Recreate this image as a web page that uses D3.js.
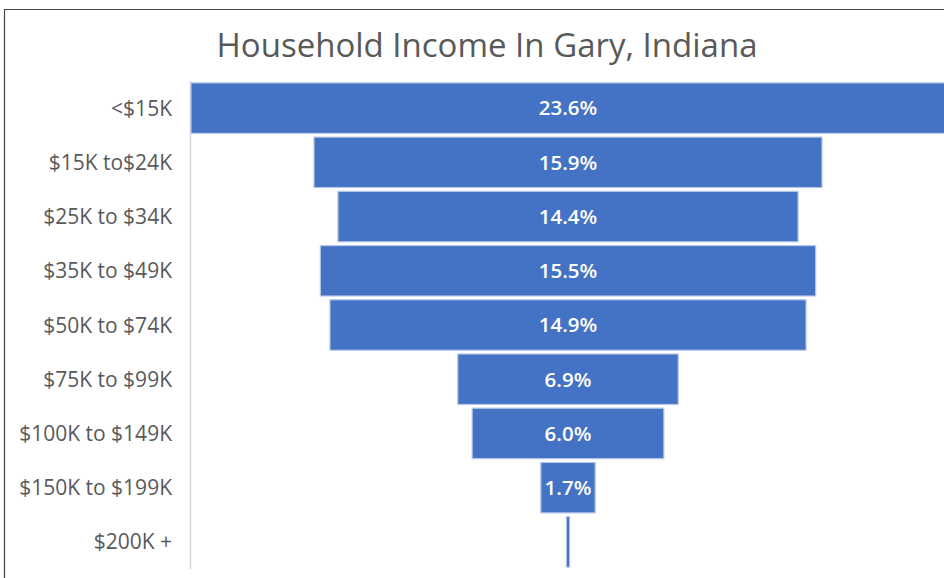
<!DOCTYPE html>
<html>
<head>
<meta charset="utf-8">
<script src="https://cdn.jsdelivr.net/npm/d3@7"></script>
<style>
  html, body { margin: 0; padding: 0; background: #fff; }
  svg { display: block; }
</style>
</head>
<body>
<svg id="chart" width="944" height="578"></svg>
<script>
const title = "Household Income In Gary, Indiana";
const categories = ["<$15K", "$15K to$24K", "$25K to $34K", "$35K to $49K", "$50K to $74K", "$75K to $99K", "$100K to $149K", "$150K to $199K", "$200K +"];
const values = [23.6, 15.9, 14.4, 15.5, 14.9, 6.9, 6.0, 1.7, 0.1];
const labels = ["23.6%", "15.9%", "14.4%", "15.5%", "14.9%", "6.9%", "6.0%", "1.7%", ""];

const svg = d3.select("#chart");
const W = 944, H = 578;
const font = "'Open Sans', 'Liberation Sans', sans-serif";

// frame (top and left edges visible)
svg.append("line").attr("x1", 4).attr("x2", W).attr("y1", 9.5).attr("y2", 9.5)
  .attr("stroke", "#444").attr("stroke-width", 1.2);
svg.append("line").attr("x1", 4.5).attr("x2", 4.5).attr("y1", 9).attr("y2", H)
  .attr("stroke", "#444").attr("stroke-width", 1.2);

svg.append("text").attr("x", 487).attr("y", 57)
  .attr("text-anchor", "middle")
  .attr("font-family", font).attr("font-size", 33)
  .attr("fill", "#595959").text(title);

const maxVal = d3.max(values);
const x = d3.scaleLinear().domain([-maxVal / 2, maxVal / 2]).range([191, 945]);
const y = d3.scaleBand().domain(categories).range([81, 569]).paddingInner(0.07).paddingOuter(0.035);

// vertical axis line
svg.append("line").attr("x1", 190.5).attr("x2", 190.5).attr("y1", 81).attr("y2", 569)
  .attr("stroke", "#d9d9d9").attr("stroke-width", 1.5);

const rows = categories.map((c, i) => ({ c, v: values[i], l: labels[i] }));

svg.append("g").selectAll("rect").data(rows).join("rect")
  .attr("x", d => x(-d.v / 2))
  .attr("width", d => x(d.v / 2) - x(-d.v / 2))
  .attr("y", d => y(d.c))
  .attr("height", y.bandwidth())
  .attr("fill", "#4472C4")
  .attr("stroke", "#b4c7e7").attr("stroke-width", 1.2);

svg.append("g").selectAll("text").data(rows).join("text")
  .attr("x", d => x(0))
  .attr("y", d => y(d.c) + y.bandwidth() / 2)
  .attr("dy", "0.36em")
  .attr("text-anchor", "middle")
  .attr("font-family", font).attr("font-size", 20.5).attr("font-weight", 600)
  .attr("fill", "#fff").text(d => d.l);

// category axis labels
const yAxis = d3.axisLeft(y).tickSize(0).tickPadding(0);
const ag = svg.append("g").attr("transform", "translate(172,0)").call(yAxis);
ag.select(".domain").remove();
ag.selectAll("text").attr("font-family", font).attr("font-size", 21).attr("fill", "#595959").attr("dy", "0.36em");
</script>
</body>
</html>
